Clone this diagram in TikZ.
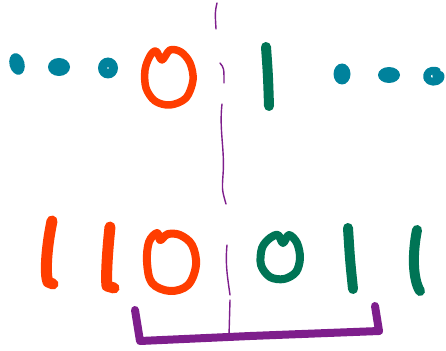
\documentclass[tikz,border=0pt]{standalone}
\begin{document}
\definecolor{myorange}{HTML}{FF3D00}
\definecolor{mygreen}{HTML}{007455}
\definecolor{myteal}{HTML}{00829C}
\definecolor{mypurple}{HTML}{7E1E8C}
\begin{tikzpicture}[x=1pt,y=-1pt,line cap=round,line join=round,
  ostroke/.style={draw=myorange,line width=#1},
  gstroke/.style={draw=mygreen,line width=#1},
  tdot/.style={fill=myteal},
  thin/.style={draw=mypurple,line width=1.4pt},
  bracket/.style={draw=mypurple,line width=8pt}]
\useasboundingbox (0,0) rectangle (446,350);
% top row dots (left)
\fill[tdot,rotate around={15:(17,64)}] (17,64) ellipse [x radius=7.5, y radius=11];
\fill[tdot] (59,67) ellipse [x radius=11, y radius=9];
\fill[tdot] (108,68) ellipse [x radius=10, y radius=10.5];
\fill[white] (108,68) circle (0.8);
% top orange 0
\draw[ostroke=7.5pt] plot[smooth cycle,tension=0.55] coordinates
  {(162,60) (170,50) (181,52) (190,63) (193,80) (186,98) (170,105) (155,101) (146,88) (145,70) (150,56) (156,51)};
% top green 1
\draw[gstroke=10pt] (266,47) .. controls (268,75) .. (269,106);
% top row dots (right)
\fill[tdot] (342,74) ellipse [x radius=8.5, y radius=10.5];
\fill[tdot] (389,75) ellipse [x radius=11, y radius=8];
\draw[myteal,line width=7.5pt] (437,71) .. controls (430,69) and (426,73) .. (427,78)
  .. controls (429,83) and (437,83) .. (440,79) .. controls (442,75) and (440,73) .. (436,76);
% thin dashed divider
\draw[thin] (217,3) .. controls (215,12) .. (216,29);
\draw[thin] (220,63) .. controls (224,68) .. (224,83);
\draw[thin] (222,104) .. controls (219,130) and (225,150) .. (223,175) .. controls (222,190) .. (226,204);
\draw[thin] (227,245) .. controls (225,265) and (228,280) .. (230,295);
\draw[thin] (230,300) -- (229,336);
% bottom orange 1 1 0
\draw[ostroke=11pt] (52,221) .. controls (46,250) and (45,275) .. (48,282) -- (53,284);
\draw[ostroke=11pt] (110,227) .. controls (107,255) and (106,278) .. (107,286) -- (114,288);
\draw[ostroke=8pt] plot[smooth cycle,tension=0.6] coordinates
  {(160,240) (157,233) (149,242) (147,262) (152,283) (170,291) (188,285) (196,265) (192,245) (180,235) (168,234) (163,238)};
% bottom green 0 1 1
\draw[gstroke=8pt] plot[smooth cycle,tension=0.55] coordinates
  {(283,243) (289,235) (297,243) (300,258) (296,272) (284,279) (270,277) (261,265) (262,248) (270,238) (278,235)};
\draw[gstroke=10pt] (348,228) .. controls (350,260) .. (353,289);
\draw[gstroke=10pt] (417,230) .. controls (412,255) and (413,280) .. (420,291);
% bracket
\draw[bracket] (135,310) -- (140,341) -- (250,336) -- (379,331);
\draw[bracket] (375,306) -- (379,331);
\end{tikzpicture}
\end{document}
